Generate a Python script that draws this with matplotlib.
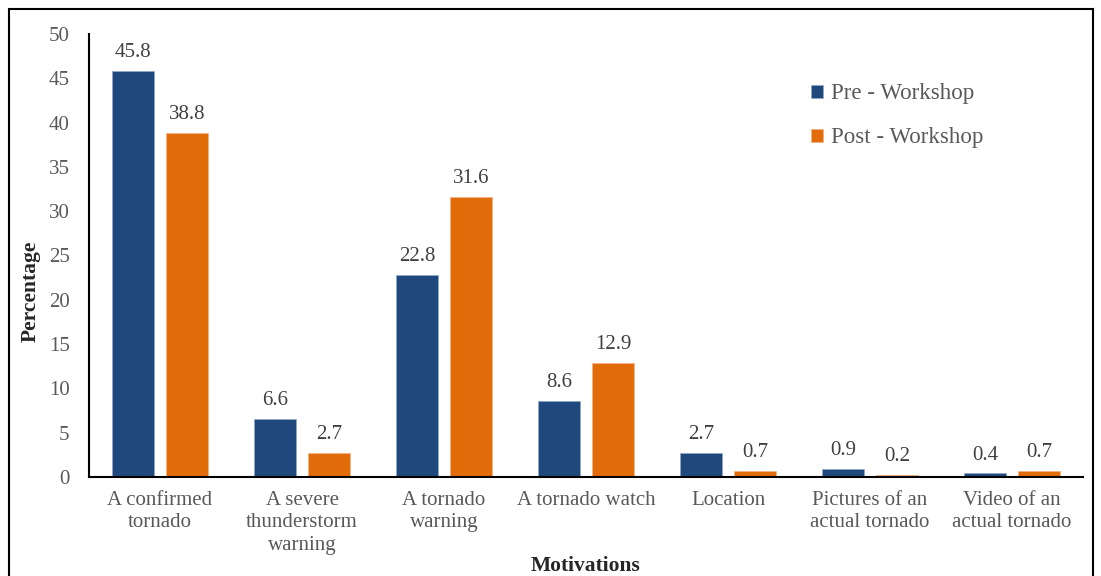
import matplotlib
matplotlib.use("Agg")
import matplotlib.pyplot as plt
import numpy as np
from matplotlib.patches import Rectangle

# data
categories = ["A confirmed\ntornado", "A severe\nthunderstorm\nwarning", "A tornado\nwarning",
              "A tornado watch", "Location", "Pictures of an\nactual tornado", "Video of an\nactual tornado"]
pre_workshop = [45.8, 6.6, 22.8, 8.6, 2.7, 0.9, 0.4]
post_workshop = [38.8, 2.7, 31.6, 12.9, 0.7, 0.2, 0.7]
y_ticks = [0, 5, 10, 15, 20, 25, 30, 35, 40, 45, 50]

BLUE = "#1F497D"
ORANGE = "#E36C0A"
GREY = "#595959"

plt.rcParams["font.family"] = ["Liberation Serif", "DejaVu Serif"]

fig = plt.figure(figsize=(11.01, 5.76), dpi=100)
ax = fig.add_axes([89 / 1101, 1 - 477 / 576, (1083 - 89) / 1101, (477 - 34) / 576])

# outer frame
fig.patches.append(Rectangle((9 / 1101, -0.01), (1093 - 9) / 1101, 1 - 9 / 576 + 0.01,
                             transform=fig.transFigure, fill=False, edgecolor="black", linewidth=1.5))

x = np.arange(len(categories))
w = 0.30
off = 0.19
b1 = ax.bar(x - off, pre_workshop, w, color=BLUE, edgecolor="#8EA9C8", linewidth=0.5, label="Pre - Workshop")
b2 = ax.bar(x + off, post_workshop, w, color=ORANGE, edgecolor="#F4B183", linewidth=0.5, label="Post - Workshop")

for bars, vals in ((b1, pre_workshop), (b2, post_workshop)):
    for r, v in zip(bars, vals):
        ax.text(r.get_x() + r.get_width() / 2, v + 1.0, f"{v:.1f}", ha="center", va="bottom",
                fontsize=15, color="#404040")

ax.set_xlim(-0.5, len(categories) - 0.5)
ax.set_ylim(0, 50)
ax.set_yticks(y_ticks)
ax.set_xticks(x)
ax.set_xticklabels(categories, fontsize=15, color=GREY, linespacing=1.25)
ax.tick_params(axis="y", labelsize=15, labelcolor=GREY, length=0, pad=14)
ax.tick_params(axis="x", length=0, pad=10)
for s in ("top", "right"):
    ax.spines[s].set_visible(False)
ax.spines["left"].set_linewidth(1.5)
ax.spines["bottom"].set_linewidth(1.5)

ax.set_ylabel("Percentage", fontsize=15.5, fontweight="bold", color="#262626")
ax.yaxis.set_label_coords(-0.049, 0.42)
ax.set_xlabel("Motivations", fontsize=15.5, fontweight="bold", color="#262626")
ax.xaxis.set_label_coords(0.5, -0.178)

ax.legend(loc="upper left", bbox_to_anchor=(0.706, 0.935), frameon=False, fontsize=16.5,
          labelcolor=GREY, handlelength=0.5, handleheight=0.5, handletextpad=0.35, labelspacing=1.0)

fig.savefig("out.png", dpi=100)
